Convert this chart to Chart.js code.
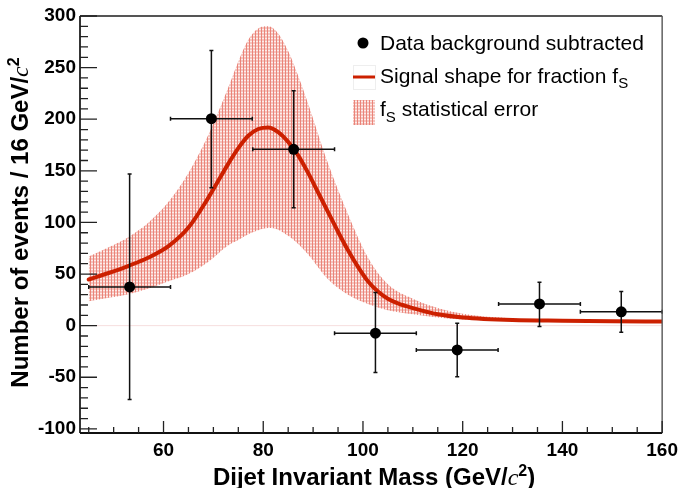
<!DOCTYPE html>
<html>
<head>
<meta charset="utf-8">
<script src="https://cdn.jsdelivr.net/npm/chart.js@4.4.0/dist/chart.umd.min.js"></script>
<style>
  html, body { margin: 0; padding: 0; background: #fff; }
  canvas { display: block; }
</style>
</head>
<body>
<canvas id="c" width="684" height="488"></canvas>
<script>
// tick labels
const xTickLabels = [60, 80, 100, 120, 140, 160];
const yTickLabels = [-100, -50, 0, 50, 100, 150, 200, 250, 300];

// background subtracted data (bin centres, value, error bar ends)
const binCenters = [53.2, 69.6, 86.1, 102.5, 118.9, 135.4, 151.8];
const binHalf    = 8.2;
const dataY  = [37.5, 200.5, 170.8, -7.3, -23.5, 21, 13.4];
const dataHi = [147, 266.5, 227.5, 32, 2.4, 42, 33];
const dataLo = [-71.5, 133.7, 114.3, -45.5, -49.6, -0.9, -6.3];

// signal shape for fraction fS
const curveX = [45, 49, 53, 57, 61, 65, 69, 73, 75, 77, 79, 81, 83, 85, 87, 89, 91, 93, 95, 97, 99, 101, 103, 105, 107, 110, 115, 120, 130, 140, 150, 160];
const curveY = [44.7, 51, 58, 66, 77, 95, 124, 157, 172, 184, 190.5, 192, 187.5, 178, 165, 148, 129, 110, 91, 73, 57, 43, 33, 26, 21.5, 17, 11, 8, 5.5, 4.8, 4.3, 4];

// fS statistical error band
const bandX  = [45, 49, 53, 57, 61, 65, 69, 73, 75, 77, 79, 81, 83, 85, 87, 89, 93, 97, 101, 105, 110, 115, 120, 130, 140, 160];
const bandHi = [67, 76, 86, 100, 120, 148, 185, 231, 256, 277, 288, 290, 283, 266, 242, 215, 157, 108, 66, 40, 26, 17, 11.5, 7, 5.5, 4.5];
const bandLo = [23.6, 27, 30.5, 36, 43, 50, 62, 78, 83, 88.5, 92.5, 94.5, 93, 87, 79, 69, 45, 30, 21, 15, 11, 8, 6, 4.5, 4, 3.5];

const zeroX = [45, 160];
const zeroY = [0, 0];

const RED  = '#cc2000';
const SANS = '"Liberation Sans", Arial, Helvetica, sans-serif';
const SERIF = '"Liberation Serif", "Times New Roman", serif';

const pts = (xa, ya) => xa.map((x, i) => ({ x, y: ya[i] }));

const canvas = document.getElementById('c');
const ctx0 = canvas.getContext('2d');

function makePattern() {
  const t = document.createElement('canvas');
  t.width = 3; t.height = 3;
  const g = t.getContext('2d');
  g.fillStyle = '#f5c3bd'; g.fillRect(0, 0, 3, 3);
  g.fillStyle = '#ea8479'; g.fillRect(0, 0, 1, 3);
  g.fillStyle = '#fdecea'; g.fillRect(1, 2, 2, 1);
  return ctx0.createPattern(t, 'repeat');
}
const hatch = makePattern();

function drawPieces(ctx, pieces, x, y) {
  pieces.forEach(p => {
    ctx.font = p.font;
    ctx.fillText(p.t, x, y + (p.dy || 0));
    x += ctx.measureText(p.t).width;
  });
}
function piecesWidth(ctx, pieces) {
  let w = 0;
  pieces.forEach(p => { ctx.font = p.font; w += ctx.measureText(p.t).width; });
  return w;
}

function drawErrors(chart) {
  const ctx = chart.ctx, xs = chart.scales.x, ys = chart.scales.y;
  ctx.save();
  ctx.strokeStyle = '#111';
  ctx.lineWidth = 1.5;
  binCenters.forEach((c, i) => {
    const x  = xs.getPixelForValue(c);
    const x1 = xs.getPixelForValue(c - binHalf);
    const x2 = xs.getPixelForValue(c + binHalf);
    const y  = ys.getPixelForValue(dataY[i]);
    const yh = ys.getPixelForValue(dataHi[i]);
    const yl = ys.getPixelForValue(dataLo[i]);
    ctx.beginPath();
    ctx.moveTo(x1, y); ctx.lineTo(x2, y);
    ctx.moveTo(x, yh); ctx.lineTo(x, yl);
    ctx.moveTo(x1, y - 2); ctx.lineTo(x1, y + 2);
    ctx.moveTo(x2, y - 2); ctx.lineTo(x2, y + 2);
    ctx.moveTo(x - 2, yh); ctx.lineTo(x + 2, yh);
    ctx.moveTo(x - 2, yl); ctx.lineTo(x + 2, yl);
    ctx.stroke();
  });
  ctx.restore();
}

const rootStyle = {
  id: 'rootStyle',
  afterDatasetDraw(chart, args) {
    if (args.index === 3) drawErrors(chart);
  },
  afterDraw(chart) {
    const ctx = chart.ctx;
    const { left, right, top, bottom } = chart.chartArea;
    const xs = chart.scales.x, ys = chart.scales.y;
    ctx.save();

    // frame
    ctx.lineWidth = 2; ctx.strokeStyle = '#555';
    ctx.beginPath(); ctx.moveTo(left, top); ctx.lineTo(right, top); ctx.stroke();
    ctx.lineWidth = 1.4;
    ctx.beginPath(); ctx.moveTo(right, top); ctx.lineTo(right, bottom); ctx.stroke();
    ctx.strokeStyle = '#111'; ctx.lineWidth = 1.7;
    ctx.beginPath(); ctx.moveTo(left, top); ctx.lineTo(left, bottom); ctx.stroke();
    ctx.lineWidth = 2;
    ctx.beginPath(); ctx.moveTo(left, bottom); ctx.lineTo(right, bottom); ctx.stroke();

    // inward ticks
    ctx.lineWidth = 1.3; ctx.strokeStyle = '#222';
    ctx.beginPath();
    for (let v = -100; v <= 300; v += 10) {
      const y = ys.getPixelForValue(v);
      const len = v % 50 === 0 ? 17 : 8;
      ctx.moveTo(left, y); ctx.lineTo(left + len, y);
    }
    for (let v = 45; v <= 160; v += 5) {
      const x = xs.getPixelForValue(v);
      const len = v % 20 === 0 ? 12 : 6;
      ctx.moveTo(x, bottom); ctx.lineTo(x, bottom - len);
    }
    ctx.stroke();

    // axis titles
    ctx.fillStyle = '#000';
    ctx.textBaseline = 'alphabetic';
    ctx.textAlign = 'left';
    const B = 'bold 24px ' + SANS;
    const xt = [
      { t: 'Dijet Invariant Mass (GeV/', font: B },
      { t: 'c', font: 'italic 24px ' + SERIF },
      { t: '2', font: 'bold 16px ' + SANS, dy: -9 },
      { t: ')', font: B }
    ];
    const xw = piecesWidth(ctx, xt);
    drawPieces(ctx, xt, (left + right) / 2 - xw / 2 + 3, 485);

    const yt = [
      { t: 'Number of events / 16 GeV/', font: B },
      { t: 'c', font: 'italic 24px ' + SERIF },
      { t: '2', font: 'bold 16px ' + SANS, dy: -9 }
    ];
    const yw = piecesWidth(ctx, yt);
    ctx.save();
    ctx.translate(28, 222.5);
    ctx.rotate(-Math.PI / 2);
    drawPieces(ctx, yt, -yw / 2, 0);
    ctx.restore();

    // legend
    const L = '21px ' + SANS, S = '15px ' + SANS;
    ctx.fillStyle = '#000';
    ctx.beginPath(); ctx.arc(363, 43, 5.5, 0, Math.PI * 2); ctx.fill();
    drawPieces(ctx, [{ t: 'Data background subtracted', font: L }], 380, 50);

    ctx.strokeStyle = '#eee'; ctx.lineWidth = 1;
    ctx.strokeRect(353.5, 65.5, 22, 24);
    ctx.strokeStyle = RED; ctx.lineWidth = 3;
    ctx.beginPath(); ctx.moveTo(353, 77); ctx.lineTo(375, 77); ctx.stroke();
    drawPieces(ctx, [{ t: 'Signal shape for fraction f', font: L }, { t: 'S', font: S, dy: 5 }], 380, 83);

    ctx.fillStyle = hatch;
    ctx.fillRect(353, 100, 22, 25);
    ctx.fillStyle = '#000';
    drawPieces(ctx, [{ t: 'f', font: L }, { t: 'S', font: S, dy: 6 }, { t: ' statistical error', font: L }], 380, 116);

    ctx.restore();
  }
};

new Chart(canvas, {
  type: 'scatter',
  data: {
    datasets: [
      { type: 'line', label: 'fS statistical error', data: pts(bandX, bandHi), order: 2,
        borderWidth: 0, borderColor: 'rgba(0,0,0,0)', pointRadius: 0, fill: '+1',
        backgroundColor: hatch, cubicInterpolationMode: 'monotone' },
      { type: 'line', label: 'band low', data: pts(bandX, bandLo), order: 2,
        borderWidth: 0, borderColor: 'rgba(0,0,0,0)', pointRadius: 0, fill: false,
        cubicInterpolationMode: 'monotone' },
      { type: 'line', label: 'zero', data: pts(zeroX, zeroY), order: 3,
        borderWidth: 1, borderColor: '#f6dede', pointRadius: 0, fill: false },
      { type: 'line', label: 'Signal shape for fraction fS', data: pts(curveX, curveY), order: 1,
        borderWidth: 4, borderColor: RED, pointRadius: 0, fill: false,
        cubicInterpolationMode: 'monotone', borderCapStyle: 'round', borderJoinStyle: 'round' },
      { type: 'scatter', label: 'Data background subtracted', data: pts(binCenters, dataY), order: 0,
        pointRadius: 5.5, pointBackgroundColor: '#000', pointBorderWidth: 0, borderColor: '#000' }
    ]
  },
  options: {
    responsive: false,
    animation: false,
    layout: { padding: { top: 16, right: 16, left: 0, bottom: 0 } },
    plugins: { legend: { display: false }, tooltip: { enabled: false } },
    scales: {
      x: {
        type: 'linear', min: 43.25, max: 160,
        grid: { display: false, drawTicks: false },
        border: { display: false },
        afterBuildTicks: s => { s.ticks = xTickLabels.map(v => ({ value: v })); },
        afterFit: s => { s.height = 55; },
        ticks: { color: '#000', padding: 6, maxRotation: 0, font: { family: SANS, size: 19, weight: 'bold' } }
      },
      y: {
        type: 'linear', min: -104, max: 300,
        grid: { display: false, drawTicks: false },
        border: { display: false },
        afterBuildTicks: s => { s.ticks = yTickLabels.map(v => ({ value: v })); },
        afterFit: s => { s.width = 80; },
        ticks: { color: '#000', padding: 4, font: { family: SANS, size: 19, weight: 'bold' } }
      }
    }
  },
  plugins: [rootStyle]
});
</script>
</body>
</html>
